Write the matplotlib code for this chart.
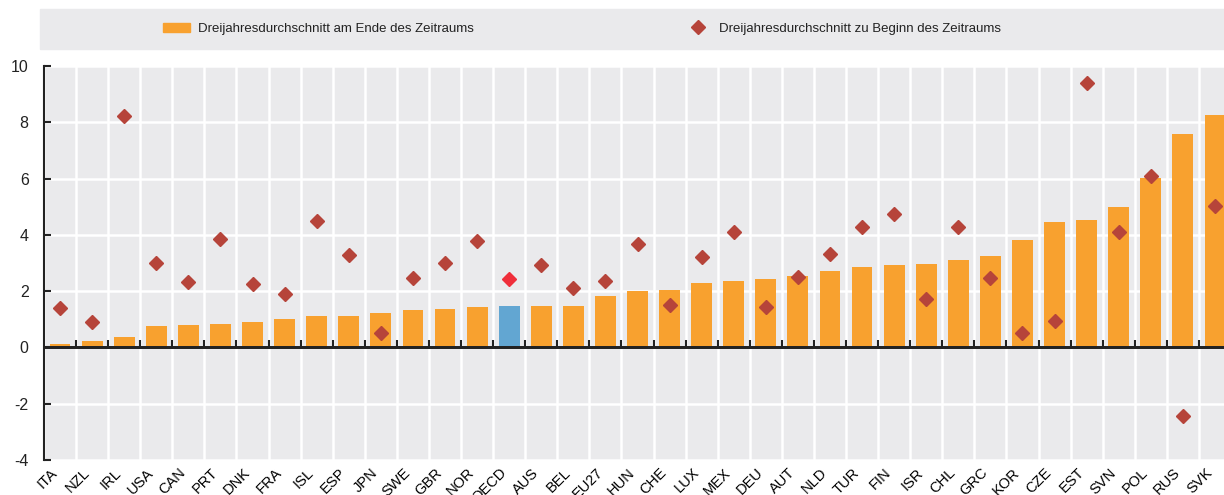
import matplotlib
matplotlib.use('Agg')
import matplotlib.pyplot as plt
from matplotlib.patches import Rectangle, Patch
from matplotlib.lines import Line2D
import numpy as np

plt.rcParams['font.family'] = ['Liberation Sans', 'DejaVu Sans']
plt.rcParams['axes.unicode_minus'] = False

countries = ['ITA', 'NZL', 'IRL', 'USA', 'CAN', 'PRT', 'DNK', 'FRA', 'ISL', 'ESP', 'JPN', 'SWE',
             'GBR', 'NOR', 'OECD', 'AUS', 'BEL', 'EU27', 'HUN', 'CHE', 'LUX', 'MEX', 'DEU', 'AUT',
             'NLD', 'TUR', 'FIN', 'ISR', 'CHL', 'GRC', 'KOR', 'CZE', 'EST', 'SVN', 'POL', 'RUS', 'SVK']

# Dreijahresdurchschnitt am Ende des Zeitraums (bars)
end_avg = [0.11, 0.23, 0.37, 0.77, 0.80, 0.82, 0.91, 1.02, 1.10, 1.12, 1.23, 1.33,
           1.35, 1.45, 1.47, 1.46, 1.48, 1.82, 2.02, 2.05, 2.30, 2.36, 2.43, 2.54,
           2.73, 2.87, 2.92, 2.96, 3.09, 3.24, 3.80, 4.44, 4.52, 4.98, 6.03, 7.58, 8.26]

# Dreijahresdurchschnitt zu Beginn des Zeitraums (diamonds)
start_avg = [1.41, 0.89, 8.23, 2.99, 2.31, 3.85, 2.24, 1.90, 4.49, 3.27, 0.50, 2.46,
             3.00, 3.79, 2.42, 2.93, 2.12, 2.35, 3.69, 1.52, 3.22, 4.10, 1.45, 2.51,
             3.32, 4.29, 4.73, 1.71, 4.29, 2.45, 0.52, 0.93, 9.41, 4.11, 6.09, -2.43, 5.03]

n = len(countries)
highlight = 'OECD'

bar_col = '#F8A12F'
oecd_col = '#62A6D2'
dia_col = '#B6443A'
oecd_dia = '#EF2E3A'
bg = '#EAEAEC'
dark = '#222222'

fig = plt.figure(figsize=(12.24, 4.95), dpi=100)
ax = fig.add_axes([44 / 1224, 1 - 460 / 495, (1231 - 44) / 1224, (460 - 66) / 495])
ax.set_facecolor(bg)

x = np.arange(n)
colors = [oecd_col if c == highlight else bar_col for c in countries]
ax.bar(x, end_avg, width=0.65, color=colors, zorder=2)
dcols = [oecd_dia if c == highlight else dia_col for c in countries]
for xi, yi, ci in zip(x, start_avg, dcols):
    ax.plot(xi, yi, ls='none', marker='D', ms=7.3, color=ci, mec=ci, zorder=4)

ax.axhline(0, color=dark, lw=2, zorder=3)

ax.set_xlim(-0.5, n - 0.5)
ax.set_ylim(-4, 10)
ax.set_yticks(np.arange(-4, 11, 2))
ax.set_xticks(x)
ax.set_xticklabels(countries, rotation=45, ha='right', fontsize=10.5)
ax.set_xticks(np.arange(-0.5, n, 1), minor=True)
ax.tick_params(axis='x', which='both', length=0, pad=4)
ax.tick_params(axis='y', direction='in', length=5, width=1.5, pad=11, labelsize=11.5, colors=dark)
ax.grid(True, axis='y', color='white', lw=1.8, zorder=1)
ax.grid(True, axis='x', which='minor', color='white', lw=1.8, zorder=1)
ax.set_axisbelow(True)
for s in ['top', 'right', 'bottom']:
    ax.spines[s].set_visible(False)
ax.spines['left'].set_linewidth(1.5)
ax.spines['left'].set_color(dark)

# small tick marks on the zero line between categories
sec = ax.secondary_xaxis(4 / 14)
sec.set_zorder(5)
sec.set_xticks(np.arange(0.5, n - 0.5, 1))
sec.tick_params(direction='in', length=5, width=1.5, labelbottom=False, color=dark)
sec.spines['bottom'].set_linewidth(2)
sec.spines['bottom'].set_color(dark)

fig.patches.append(Rectangle((40 / 1224, 1 - 49 / 495), 1, 40 / 495,
                             transform=fig.transFigure, color=bg, zorder=0))
handles = [Patch(color=bar_col), Line2D([], [], ls='none', marker='D', ms=7.3, color=dia_col)]
labels = ['Dreijahresdurchschnitt am Ende des Zeitraums', 'Dreijahresdurchschnitt zu Beginn des Zeitraums']
fig.legend(handles, labels, loc='center', bbox_to_anchor=(582 / 1224, 1 - 29 / 495), ncol=2,
           frameon=False, fontsize=9.5, columnspacing=16.0, handlelength=2.0, handletextpad=0.6,
           labelcolor=dark)

fig.savefig('out.png', dpi=100)
